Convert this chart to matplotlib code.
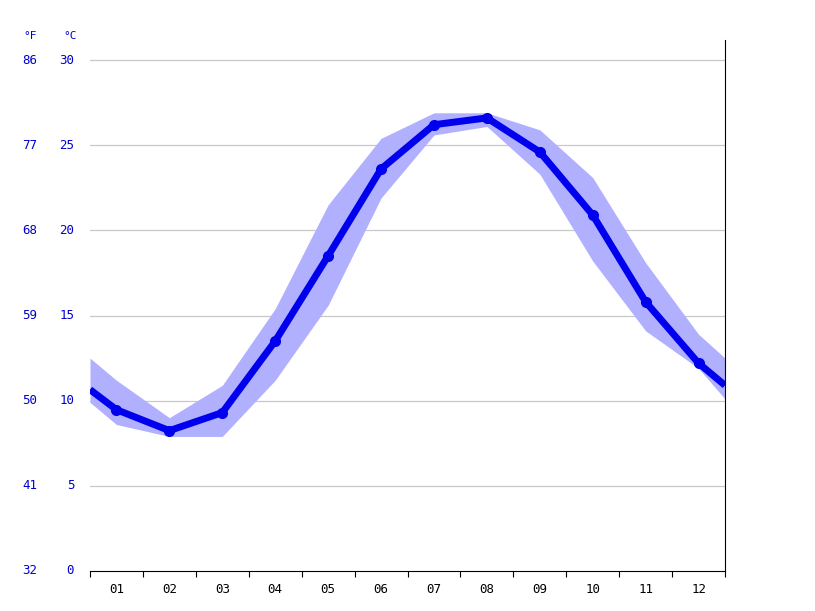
import matplotlib.pyplot as plt
import numpy as np

months = ['01', '02', '03', '04', '05', '06', '07', '08', '09', '10', '11', '12']
temp_mean = [9.47, 8.24, 9.3, 13.5, 18.5, 23.6, 26.2, 26.6, 24.6, 20.9, 15.8, 12.2]
temp_high = [11.2, 9.0, 10.9, 15.4, 21.5, 25.4, 26.9, 26.9, 25.9, 23.1, 18.1, 13.9]
temp_low = [8.6, 7.9, 7.9, 11.2, 15.6, 21.9, 25.6, 26.1, 23.3, 18.2, 14.1, 11.9]
# values at the left / right edges of the chart
edge_mean = (10.65, 10.9)
edge_high = (12.5, 12.5)
edge_low = (9.9, 10.1)
c_ticks = [0, 5, 10, 15, 20, 25, 30]
f_ticks = [32, 41, 50, 59, 68, 77, 86]

x = np.arange(len(months)) + 0.5
xe = np.concatenate([[0], x, [12]])
mean = [edge_mean[0]] + temp_mean + [edge_mean[1]]
high = [edge_high[0]] + temp_high + [edge_high[1]]
low = [edge_low[0]] + temp_low + [edge_low[1]]

fig = plt.figure(figsize=(8.15, 6.11), dpi=100)
ax = fig.add_axes([90 / 815, 40 / 611, 635 / 815, 531 / 611])
ax.set_xlim(0, 12)
ax.set_ylim(0, 30 * 531 / 511)

for c in c_ticks[1:]:
    ax.axhline(c, color='#c8c8c8', lw=0.9, zorder=0)

ax.fill_between(xe, low, high, color='#b0b0ff', lw=0, zorder=1)
ax.plot(xe, mean, color='#0000ee', lw=5, zorder=2, solid_capstyle='butt')
ax.plot(x, temp_mean, 'o', color='#0000ee', ms=7, zorder=3)

for s in ['top', 'left']:
    ax.spines[s].set_visible(False)
ax.spines['right'].set_color('black')
ax.spines['bottom'].set_color('black')
ax.set_yticks([])
ax.set_xticks(np.arange(0, 13), minor=False)
ax.set_xticklabels([])
ax.tick_params(axis='x', length=4, color='black')
for xi, m in zip(x, months):
    ax.text(xi, -0.7, m, ha='center', va='top', fontsize=9, family='DejaVu Sans Mono')

for c, f in zip(c_ticks, f_ticks):
    ax.text(-0.3, c, str(c), ha='right', va='center', color='#0000cc', fontsize=9,
            family='DejaVu Sans Mono', clip_on=False)
    ax.text(-1.0, c, str(f), ha='right', va='center', color='#0000cc', fontsize=9,
            family='DejaVu Sans Mono', clip_on=False)
fig.text(70 / 815, 1 - 36 / 611, '°C', ha='center', va='center', color='#0000cc', fontsize=8,
         family='DejaVu Sans Mono')
fig.text(30 / 815, 1 - 36 / 611, '°F', ha='center', va='center', color='#0000cc', fontsize=8,
         family='DejaVu Sans Mono')

fig.savefig('out.png', dpi=100)
